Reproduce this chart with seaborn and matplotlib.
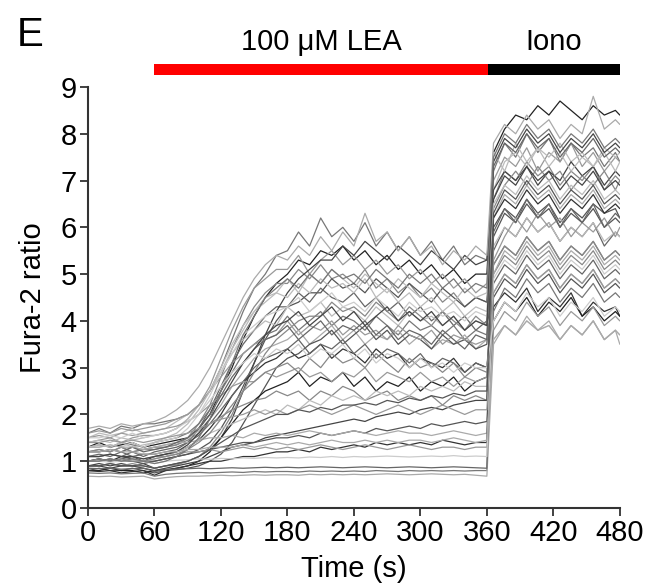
import matplotlib
matplotlib.use("Agg")
import matplotlib.pyplot as plt
import numpy as np
import pandas as pd
import seaborn as sns
from matplotlib.patches import Rectangle

# sampling times: LEA phase every 10 s, ionomycin phase after 360 s
time_s = np.r_[np.arange(0, 361, 10), np.arange(366, 477, 10), 480]

# Fura-2 ratio traces (37 LEA-phase values + 13 iono-phase values)
high_responders = [
    [1.3, 1.4, 1.3, 1.35, 1.4, 1.3, 1.35, 1.4, 1.45, 1.5, 1.7, 2.0, 2.5, 3.0, 3.6, 4.1, 4.5, 4.8,
     5.0, 5.3, 5.2, 5.5, 5.4, 5.6, 5.3, 5.5, 5.2, 5.4, 5.1, 5.3, 5.0, 5.2, 4.9, 5.1, 4.8, 5.0, 5.0,
     7.6, 8.1, 8.4, 8.3, 8.6, 8.4, 8.7, 8.5, 8.3, 8.6, 8.4, 8.5, 8.4],
    [1.6, 1.7, 1.6, 1.75, 1.7, 1.8, 1.8, 1.85, 1.9, 2.0, 2.2, 2.5, 3.0, 3.6, 4.2, 4.7, 5.0, 5.4,
     5.5, 5.9, 5.6, 6.2, 5.8, 6.0, 5.7, 6.1, 5.6, 5.9, 5.5, 5.8, 5.4, 5.7, 5.3, 5.6, 5.2, 5.4, 5.3,
     7.2, 7.8, 7.5, 8.0, 7.6, 7.9, 7.4, 7.8, 7.5, 7.7, 7.3, 7.6, 7.4],
    [1.2, 1.25, 1.2, 1.3, 1.2, 1.25, 1.25, 1.3, 1.35, 1.5, 1.8, 2.2, 2.8, 3.4, 3.9, 4.3, 4.6, 4.8,
     4.8, 5.1, 4.9, 5.2, 4.9, 5.0, 4.8, 5.1, 4.7, 4.9, 4.6, 4.8, 4.5, 4.7, 4.4, 4.6, 4.3, 4.5, 4.4,
     6.6, 7.2, 7.0, 7.4, 7.1, 7.3, 6.9, 7.2, 7.0, 7.3, 6.8, 7.1, 7.0],
    [1.0, 1.05, 1.0, 1.05, 1.1, 1.0, 1.0, 1.05, 1.1, 1.15, 1.25, 1.4, 1.7, 2.1, 2.6, 3.1, 3.6, 4.0,
     4.3, 4.4, 4.6, 4.6, 4.9, 4.7, 4.8, 4.6, 4.9, 4.7, 4.5, 4.8, 4.6, 4.4, 4.7, 4.5, 4.3, 4.5, 4.4,
     6.0, 6.4, 6.2, 6.6, 6.3, 6.5, 6.1, 6.4, 6.2, 6.5, 6.3, 6.4, 6.2],
    [1.4, 1.45, 1.5, 1.4, 1.5, 1.55, 1.55, 1.6, 1.7, 1.9, 2.2, 2.6, 3.2, 3.8, 4.3, 4.7, 4.9, 5.1,
     5.1, 5.4, 5.0, 5.3, 5.5, 5.2, 5.4, 5.1, 5.3, 5.0, 5.2, 4.9, 5.1, 4.8, 5.0, 4.7, 4.9, 4.6, 4.8,
     7.0, 7.5, 7.3, 7.7, 7.2, 7.6, 7.4, 7.8, 7.3, 7.6, 7.2, 7.5, 7.4],
    [1.1, 1.15, 1.1, 1.2, 1.1, 1.15, 1.15, 1.2, 1.25, 1.4, 1.7, 2.1, 2.6, 3.1, 3.5, 3.8, 4.1, 4.3,
     4.3, 4.6, 4.4, 4.7, 4.5, 4.4, 4.6, 4.3, 4.5, 4.2, 4.4, 4.1, 4.3, 4.0, 4.2, 3.9, 4.1, 3.8, 4.0,
     5.5, 6.0, 5.8, 6.2, 5.9, 6.1, 5.7, 6.0, 5.8, 6.1, 5.6, 5.9, 5.8],
    [1.5, 1.6, 1.55, 1.6, 1.7, 1.6, 1.65, 1.7, 1.85, 2.0, 2.2, 2.5, 2.9, 3.4, 3.8, 4.2, 4.5, 4.6,
     4.9, 4.6, 5.0, 4.8, 5.1, 4.9, 4.7, 5.0, 4.8, 4.6, 4.9, 4.7, 4.5, 4.8, 4.6, 4.4, 4.7, 4.5, 4.6,
     6.8, 7.4, 7.6, 7.3, 7.7, 7.5, 7.8, 7.4, 7.6, 7.3, 7.7, 7.5, 7.6],
    [0.9, 0.95, 0.9, 0.95, 0.9, 0.95, 0.85, 0.9, 0.95, 1.0, 1.1, 1.25, 1.5, 1.9, 2.5, 3.1, 3.7, 4.2,
     4.6, 4.9, 5.1, 5.3, 5.3, 5.6, 5.4, 5.7, 5.5, 5.3, 5.6, 5.4, 5.2, 5.5, 5.3, 5.1, 5.4, 5.2, 5.3,
     6.8, 7.2, 7.0, 7.3, 6.9, 7.2, 7.0, 7.4, 7.1, 7.3, 6.9, 7.2, 7.1],
]
high_colors = ["#222222", "#777777", "#888888", "#555555", "#999999", "#666666", "#bbbbbb", "#444444"]

mid_responders = [
    [1.0, 1.05, 1.0, 1.1, 1.05, 1.0, 1.1, 1.15, 1.2, 1.3, 1.45, 1.7, 2.0, 2.4, 2.7, 2.9, 3.1, 3.2,
     3.4, 3.2, 3.3, 3.5, 3.2, 3.4, 3.3, 3.1, 3.4, 3.2, 3.3, 3.0, 3.2, 3.1, 3.0, 3.2, 2.9, 3.1, 3.0,
     4.3, 4.6, 4.4, 4.7, 4.2, 4.5, 4.3, 4.6, 4.1, 4.4, 4.2, 4.3, 4.1],
    [1.3, 1.35, 1.3, 1.4, 1.35, 1.3, 1.4, 1.45, 1.5, 1.6, 1.8, 2.1, 2.5, 2.9, 3.3, 3.5, 3.7, 3.8,
     4.1, 3.8, 4.0, 4.2, 3.9, 4.1, 4.0, 3.8, 4.1, 3.9, 3.7, 4.0, 3.8, 3.9, 3.7, 3.9, 3.6, 3.8, 3.7,
     5.2, 5.6, 5.4, 5.8, 5.5, 5.7, 5.3, 5.6, 5.4, 5.7, 5.3, 5.5, 5.4],
    [1.2, 1.2, 1.25, 1.2, 1.3, 1.25, 1.3, 1.35, 1.4, 1.5, 1.65, 1.9, 2.2, 2.6, 2.9, 3.2, 3.4, 3.5,
     3.6, 3.8, 3.5, 3.7, 3.9, 3.6, 3.8, 3.5, 3.7, 3.6, 3.8, 3.5, 3.7, 3.4, 3.6, 3.5, 3.7, 3.4, 3.6,
     6.2, 6.7, 6.5, 6.9, 6.6, 6.8, 6.4, 6.7, 6.5, 6.8, 6.4, 6.6, 6.5],
    [0.8, 0.85, 0.8, 0.8, 0.85, 0.8, 0.75, 0.8, 0.82, 0.85, 0.9, 1.0, 1.15, 1.4, 1.8, 2.2, 2.6, 3.0,
     3.2, 3.3, 3.5, 3.6, 3.8, 3.5, 3.7, 3.9, 3.6, 3.8, 3.5, 3.7, 3.6, 3.4, 3.7, 3.5, 3.6, 3.4, 3.5,
     5.8, 6.3, 6.1, 6.5, 6.2, 6.4, 6.0, 6.3, 6.1, 6.4, 6.0, 6.2, 6.1],
    [1.4, 1.45, 1.4, 1.5, 1.45, 1.5, 1.55, 1.6, 1.7, 1.9, 2.2, 2.5, 2.9, 3.3, 3.6, 3.8, 4.0, 3.9,
     4.3, 4.1, 4.2, 4.4, 4.1, 4.3, 4.2, 4.0, 4.3, 4.1, 3.9, 4.2, 4.0, 4.1, 3.9, 4.1, 3.8, 4.0, 3.9,
     7.6, 7.2, 7.8, 7.4, 7.7, 7.3, 7.6, 7.2, 7.5, 7.3, 7.6, 7.2, 7.4],
    [1.1, 1.1, 1.15, 1.1, 1.2, 1.1, 1.2, 1.25, 1.3, 1.4, 1.55, 1.8, 2.1, 2.4, 2.7, 3.0, 3.2, 3.3,
     3.4, 3.6, 3.3, 3.5, 3.4, 3.6, 3.3, 3.5, 3.2, 3.4, 3.3, 3.1, 3.3, 3.0, 3.2, 3.1, 2.9, 3.1, 3.0,
     4.8, 5.2, 5.0, 5.4, 5.1, 5.3, 4.9, 5.2, 5.0, 5.3, 4.9, 5.1, 5.0],
    [0.9, 0.9, 0.95, 0.9, 0.95, 0.9, 0.85, 0.9, 0.92, 1.0, 1.1, 1.3, 1.6, 2.0, 2.5, 2.9, 3.3, 3.6,
     3.8, 4.0, 4.1, 4.1, 4.4, 4.2, 4.3, 4.1, 4.4, 4.2, 4.0, 4.3, 4.1, 3.9, 4.2, 4.0, 3.8, 4.1, 3.9,
     6.4, 6.9, 7.2, 6.9, 7.3, 7.0, 7.2, 6.8, 7.1, 6.9, 7.2, 6.8, 7.0],
    [1.6, 1.65, 1.6, 1.7, 1.65, 1.7, 1.75, 1.8, 1.9, 2.0, 2.2, 2.5, 2.8, 3.1, 3.3, 3.5, 3.6, 3.7,
     4.0, 3.7, 3.9, 3.8, 4.0, 3.7, 3.9, 3.7, 3.8, 3.6, 3.9, 3.7, 3.6, 3.8, 3.5, 3.7, 3.6, 3.5, 3.6,
     4.6, 5.0, 4.8, 5.2, 4.9, 5.1, 4.7, 5.0, 4.8, 5.1, 4.7, 4.9, 4.8],
    [1.3, 1.3, 1.35, 1.3, 1.4, 1.3, 1.4, 1.45, 1.5, 1.7, 2.0, 2.4, 2.9, 3.3, 3.7, 3.9, 4.1, 4.2,
     4.3, 4.5, 4.2, 4.4, 4.6, 4.3, 4.4, 4.2, 4.5, 4.3, 4.1, 4.4, 4.2, 4.3, 4.1, 4.2, 4.0, 4.2, 4.1,
     3.6, 3.9, 3.7, 4.0, 3.8, 3.9, 3.6, 3.9, 3.7, 4.0, 3.6, 3.8, 3.7],
]
mid_colors = ["#333333", "#777777", "#aaaaaa", "#555555", "#bbbbbb", "#666666", "#888888", "#999999", "#cccccc"]

low_responders = [
    [0.8, 0.8, 0.85, 0.8, 0.8, 0.75, 0.8, 0.82, 0.85, 0.9, 1.0, 1.2, 1.5, 1.8, 2.1, 2.3, 2.5, 2.6,
     2.7, 2.9, 2.6, 2.8, 2.7, 2.9, 2.6, 2.8, 2.5, 2.7, 2.6, 2.8, 2.5, 2.7, 2.6, 2.8, 2.5, 2.7, 2.8,
     4.0, 4.4, 4.2, 4.5, 4.1, 4.4, 4.2, 4.5, 4.1, 4.3, 4.0, 4.2, 4.1],
    [1.2, 1.25, 1.2, 1.3, 1.2, 1.25, 1.3, 1.3, 1.35, 1.45, 1.6, 1.8, 1.95, 2.1, 2.2, 2.3, 2.35, 2.5,
     2.4, 2.5, 2.3, 2.5, 2.4, 2.6, 2.5, 2.3, 2.4, 2.5, 2.3, 2.4, 2.3, 2.4, 2.2, 2.4, 2.3, 2.4, 2.3,
     5.0, 5.4, 5.2, 5.6, 5.3, 5.5, 5.1, 5.4, 5.2, 5.5, 5.1, 5.3, 5.2],
    [1.0, 1.0, 1.05, 1.0, 1.05, 1.0, 1.05, 1.1, 1.2, 1.3, 1.45, 1.6, 1.7, 1.8, 1.9, 2.0, 2.1, 2.0,
     2.2, 2.1, 2.3, 2.2, 2.4, 2.3, 2.4, 2.3, 2.5, 2.4, 2.5, 2.4, 2.6, 2.5, 2.6, 2.5, 2.7, 2.6, 2.6,
     5.6, 6.0, 5.8, 6.2, 5.9, 6.1, 5.7, 6.0, 5.8, 6.1, 5.7, 5.9, 5.8],
    [0.9, 0.9, 0.85, 0.9, 0.9, 0.85, 0.8, 0.85, 0.9, 0.95, 1.0, 1.1, 1.2, 1.3, 1.35, 1.4, 1.5, 1.55,
     1.6, 1.65, 1.7, 1.75, 1.8, 1.85, 1.9, 1.85, 1.95, 2.0, 2.05, 2.0, 2.1, 2.15, 2.1, 2.2, 2.25, 2.3, 2.3,
     6.6, 7.1, 6.9, 7.3, 7.0, 7.2, 6.8, 7.1, 6.9, 7.2, 6.8, 7.0, 6.9],
    [1.5, 1.55, 1.5, 1.6, 1.55, 1.6, 1.65, 1.7, 1.75, 1.85, 2.0, 2.2, 2.4, 2.6, 2.7, 2.7, 2.9, 2.8,
     2.9, 3.0, 2.8, 2.9, 2.7, 2.9, 2.8, 3.0, 2.7, 2.9, 2.8, 2.7, 2.9, 2.7, 2.8, 2.6, 2.8, 2.7, 2.8,
     5.3, 5.8, 6.2, 5.9, 6.3, 6.0, 6.2, 5.8, 6.1, 5.9, 6.2, 5.8, 6.0],
]
low_colors = ["#222222", "#888888", "#bbbbbb", "#444444", "#999999"]

non_responders = [
    [1.0, 1.0, 1.05, 1.0, 1.0, 0.95, 1.0, 1.05, 1.1, 1.15, 1.2, 1.25, 1.3, 1.35, 1.4, 1.4, 1.45, 1.5,
     1.5, 1.55, 1.5, 1.6, 1.55, 1.6, 1.65, 1.6, 1.7, 1.65, 1.7, 1.75, 1.7, 1.8, 1.75, 1.8, 1.85, 1.8, 1.85,
     4.5, 4.9, 4.7, 5.1, 4.8, 5.0, 4.6, 4.9, 4.7, 5.0, 4.6, 4.8, 4.7],
    [1.3, 1.3, 1.35, 1.3, 1.3, 1.25, 1.3, 1.35, 1.4, 1.4, 1.45, 1.5, 1.5, 1.55, 1.5, 1.6, 1.55, 1.6,
     1.55, 1.6, 1.65, 1.6, 1.55, 1.6, 1.65, 1.6, 1.55, 1.6, 1.65, 1.6, 1.6, 1.55, 1.6, 1.65, 1.6, 1.55, 1.6,
     5.0, 5.5, 5.3, 5.7, 5.4, 5.6, 5.2, 5.5, 5.3, 5.6, 5.2, 5.4, 5.3],
    [0.8, 0.78, 0.8, 0.75, 0.78, 0.8, 0.7, 0.8, 0.85, 0.9, 0.95, 1.0, 1.0, 1.05, 1.1, 1.1, 1.15, 1.2,
     1.2, 1.25, 1.2, 1.3, 1.25, 1.3, 1.35, 1.3, 1.4, 1.35, 1.4, 1.35, 1.4, 1.35, 1.45, 1.4, 1.35, 1.4, 1.4,
     6.2, 6.6, 6.4, 6.8, 6.5, 6.7, 6.3, 6.6, 6.4, 6.7, 6.3, 6.5, 6.4],
    [1.1, 1.1, 1.15, 1.1, 1.1, 1.05, 1.1, 1.1, 1.15, 1.2, 1.2, 1.25, 1.2, 1.25, 1.3, 1.25, 1.3, 1.25,
     1.3, 1.25, 1.3, 1.35, 1.3, 1.25, 1.3, 1.35, 1.3, 1.25, 1.3, 1.35, 1.3, 1.25, 1.3, 1.3, 1.25, 1.3, 1.3,
     3.8, 4.2, 4.0, 4.4, 4.1, 4.3, 3.9, 4.2, 4.0, 4.3, 3.9, 4.1, 4.0],
    [0.75, 0.74, 0.75, 0.73, 0.74, 0.75, 0.68, 0.72, 0.74, 0.75, 0.76, 0.75, 0.76, 0.77, 0.76, 0.78, 0.77, 0.78,
     0.78, 0.77, 0.79, 0.78, 0.79, 0.78, 0.79, 0.78, 0.8, 0.79, 0.78, 0.8, 0.79, 0.8, 0.79, 0.8, 0.79, 0.8, 0.8,
     4.2, 4.7, 4.5, 4.9, 4.6, 4.8, 4.4, 4.7, 4.5, 4.8, 4.4, 4.6, 4.5],
    [0.68, 0.67, 0.68, 0.66, 0.67, 0.68, 0.62, 0.65, 0.67, 0.68, 0.68, 0.69, 0.7, 0.69, 0.7, 0.71, 0.7, 0.71,
     0.71, 0.7, 0.72, 0.71, 0.72, 0.71, 0.72, 0.71, 0.72, 0.73, 0.72, 0.71, 0.72, 0.73, 0.72, 0.71, 0.72, 0.7, 0.68,
     3.5, 3.9, 3.7, 4.0, 3.8, 3.9, 3.6, 3.9, 3.7, 4.0, 3.6, 3.8, 3.5],
    [0.85, 0.84, 0.85, 0.83, 0.84, 0.85, 0.78, 0.82, 0.83, 0.84, 0.85, 0.84, 0.85, 0.86, 0.85, 0.86, 0.87, 0.86,
     0.87, 0.86, 0.87, 0.88, 0.87, 0.86, 0.87, 0.88, 0.87, 0.86, 0.87, 0.88, 0.87, 0.86, 0.87, 0.88, 0.87, 0.86, 0.85,
     5.9, 6.4, 6.1, 6.6, 6.2, 6.5, 6.0, 6.4, 6.1, 6.5, 6.0, 6.3, 6.2],
    [1.0, 1.0, 0.98, 1.0, 1.02, 1.0, 0.95, 1.0, 1.02, 1.03, 1.05, 1.04, 1.06, 1.05, 1.07, 1.06, 1.08, 1.07,
     1.08, 1.07, 1.09, 1.08, 1.1, 1.08, 1.1, 1.09, 1.1, 1.11, 1.1, 1.09, 1.1, 1.11, 1.1, 1.12, 1.1, 1.11, 1.1,
     4.9, 5.3, 5.1, 5.5, 5.2, 5.4, 5.0, 5.3, 5.1, 5.4, 5.0, 5.2, 5.1],
]
non_colors = ["#555555", "#aaaaaa", "#333333", "#999999", "#777777", "#aaaaaa", "#666666", "#cccccc"]

additional_cells = [
    [1.7, 1.75, 1.7, 1.8, 1.75, 1.8, 1.85, 1.95, 2.1, 2.3, 2.6, 3.0, 3.5, 4.0, 4.5, 4.9, 5.2, 5.4,
     5.3, 5.6, 5.4, 5.8, 5.5, 5.9, 5.6, 6.3, 5.7, 5.9, 5.5, 5.8, 5.4, 5.6, 5.2, 5.5, 5.3, 5.6, 5.4,
     7.8, 8.2, 8.0, 8.4, 8.1, 8.3, 7.9, 8.2, 8.0, 8.8, 8.1, 8.3, 8.2],
    [1.2, 1.2, 1.25, 1.2, 1.3, 1.2, 1.25, 1.3, 1.4, 1.5, 1.7, 2.0, 2.4, 2.8, 3.1, 3.4, 3.6, 3.7,
     3.9, 3.6, 3.8, 4.0, 3.7, 3.9, 3.8, 4.0, 3.7, 3.9, 3.6, 3.8, 3.7, 3.5, 3.8, 3.6, 3.4, 3.7, 3.6,
     7.3, 7.8, 7.6, 8.0, 7.7, 7.9, 7.5, 7.8, 7.6, 7.9, 7.5, 7.7, 7.6],
    [1.3, 1.35, 1.3, 1.4, 1.3, 1.35, 1.4, 1.5, 1.6, 1.8, 2.1, 2.5, 3.0, 3.5, 3.9, 4.2, 4.4, 4.6,
     4.5, 4.8, 4.6, 4.9, 4.7, 4.8, 4.6, 4.9, 4.5, 4.7, 4.4, 4.6, 4.3, 4.5, 4.2, 4.4, 4.1, 4.3, 4.2,
     6.5, 6.9, 6.7, 7.1, 6.8, 7.0, 6.6, 6.9, 6.7, 7.0, 6.6, 6.8, 6.7],
    [1.0, 1.05, 1.0, 1.05, 1.0, 1.0, 1.05, 1.1, 1.15, 1.25, 1.4, 1.6, 1.9, 2.2, 2.5, 2.7, 2.9, 3.0,
     3.1, 2.9, 3.2, 3.0, 3.3, 3.1, 3.2, 3.0, 3.3, 3.1, 2.9, 3.2, 3.0, 3.1, 2.9, 3.1, 2.8, 3.0, 2.9,
     5.2, 5.6, 5.4, 5.8, 5.5, 5.7, 5.3, 5.6, 5.4, 5.7, 5.3, 5.5, 5.4],
    [1.1, 1.1, 1.15, 1.1, 1.1, 1.05, 1.1, 1.15, 1.2, 1.35, 1.6, 1.9, 2.3, 2.7, 3.1, 3.4, 3.7, 3.9,
     4.0, 4.2, 3.9, 4.1, 4.3, 4.0, 4.2, 3.9, 4.1, 4.3, 4.0, 4.2, 4.0, 4.2, 3.9, 4.1, 3.8, 4.0, 3.9,
     7.4, 7.9, 7.7, 8.1, 7.8, 8.0, 7.6, 7.9, 7.7, 8.0, 7.6, 7.8, 7.7],
    [1.4, 1.4, 1.45, 1.4, 1.45, 1.4, 1.45, 1.5, 1.55, 1.6, 1.7, 1.8, 1.9, 1.95, 2.0, 2.1, 2.0, 2.1,
     2.0, 2.1, 2.2, 2.1, 2.0, 2.1, 2.2, 2.1, 2.0, 2.1, 2.2, 2.1, 2.0, 2.1, 2.2, 2.1, 2.0, 2.1, 2.1,
     4.6, 5.0, 4.8, 5.2, 4.9, 5.1, 4.7, 5.0, 4.8, 5.1, 4.7, 4.9, 4.8],
    [1.0, 1.0, 1.05, 1.0, 1.05, 1.0, 0.95, 1.0, 1.1, 1.25, 1.5, 1.9, 2.5, 3.1, 3.7, 4.1, 4.5, 4.7,
     4.9, 4.7, 5.0, 4.8, 5.1, 4.9, 5.0, 4.8, 5.1, 4.9, 4.7, 5.0, 4.8, 5.0, 4.7, 4.9, 4.6, 4.8, 4.7,
     7.5, 8.0, 7.8, 8.2, 7.9, 8.1, 7.7, 8.0, 7.8, 8.1, 7.7, 7.9, 7.8],
    [1.5, 1.5, 1.55, 1.5, 1.6, 1.5, 1.55, 1.6, 1.7, 1.85, 2.0, 2.3, 2.6, 2.9, 3.1, 3.3, 3.2, 3.4,
     3.3, 3.5, 3.2, 3.4, 3.3, 3.5, 3.2, 3.4, 3.1, 3.3, 3.2, 3.0, 3.2, 3.0, 3.1, 2.9, 3.1, 3.0, 3.0,
     4.0, 4.4, 4.2, 4.6, 4.3, 4.5, 4.1, 4.4, 4.2, 4.5, 4.1, 4.3, 4.2],
    [0.9, 0.9, 0.95, 0.9, 0.9, 0.9, 0.85, 0.9, 0.95, 1.0, 1.1, 1.25, 1.4, 1.55, 1.7, 1.8, 1.9, 2.0,
     2.0, 2.1, 2.05, 2.15, 2.1, 2.2, 2.2, 2.25, 2.2, 2.3, 2.25, 2.35, 2.3, 2.4, 2.35, 2.45, 2.4, 2.5, 2.5,
     6.3, 6.8, 6.6, 7.0, 6.7, 6.9, 6.5, 6.8, 6.6, 6.9, 6.5, 6.7, 6.6],
    [1.2, 1.2, 1.25, 1.2, 1.2, 1.15, 1.15, 1.2, 1.2, 1.25, 1.25, 1.3, 1.3, 1.3, 1.35, 1.3, 1.35, 1.4,
     1.35, 1.4, 1.35, 1.4, 1.45, 1.4, 1.4, 1.45, 1.4, 1.45, 1.4, 1.45, 1.45, 1.4, 1.45, 1.5, 1.45, 1.4, 1.45,
     3.6, 3.9, 3.7, 4.1, 3.8, 4.0, 3.6, 3.9, 3.7, 4.0, 3.6, 3.8, 3.7],
]
additional_colors = ["#aaaaaa", "#666666", "#bbbbbb", "#888888", "#444444", "#999999", "#777777", "#cccccc", "#555555", "#aaaaaa"]

# treatment bars above the axes
treatments = ["100 \u03bcM LEA", "Iono"]
treat_start = [60, 361]
treat_end = [361, 480]
treat_colors = ["#ff0000", "#000000"]

# long-form table
traces = high_responders + mid_responders + low_responders + non_responders + additional_cells
colors = high_colors + mid_colors + low_colors + non_colors + additional_colors
frames = []
for i, vals in enumerate(traces):
    frames.append(pd.DataFrame({"time": time_s, "ratio": vals, "cell": "cell%02d" % i}))
df = pd.concat(frames, ignore_index=True)
palette = {"cell%02d" % i: c for i, c in enumerate(colors)}

sns.set_style("ticks")
plt.rcParams["font.family"] = ["Liberation Sans", "DejaVu Sans"]
plt.rcParams["text.color"] = "black"
plt.rcParams["axes.labelcolor"] = "black"
plt.rcParams["xtick.labelcolor"] = "black"
plt.rcParams["ytick.labelcolor"] = "black"

fig = plt.figure(figsize=(6.47, 5.87), dpi=100)
ax = fig.add_axes([0.136, 0.1346, 0.822, 0.7172])

sns.lineplot(data=df, x="time", y="ratio", hue="cell", palette=palette, estimator=None,
             sort=False, legend=False, linewidth=0.9, ax=ax)

ax.set_xlim(0, 480)
ax.set_ylim(0, 9)
ax.set_xticks(np.arange(0, 481, 60))
ax.set_yticks(np.arange(0, 10, 1))
ax.set_xlabel("Time (s)", fontsize=21, labelpad=6)
ax.set_ylabel("Fura-2 ratio", fontsize=21, labelpad=10)
ax.tick_params(direction="out", length=6, width=1.3, color="#333333", labelsize=21, pad=2)
sns.despine(ax=ax)
for side in ["left", "bottom"]:
    ax.spines[side].set_linewidth(1.5)
    ax.spines[side].set_color("#333333")

for name, start, end, col in zip(treatments, treat_start, treat_end, treat_colors):
    ax.add_patch(Rectangle((start, 9.25), end - start, 0.24, facecolor=col, edgecolor="none",
                           clip_on=False, transform=ax.transData))
    ax.text((start + end) / 2, 9.66, name, ha="center", va="bottom", fontsize=21)

fig.text(0.047, 0.94, "E", fontsize=29, ha="center", va="center")

plt.savefig("out.png", dpi=100)
